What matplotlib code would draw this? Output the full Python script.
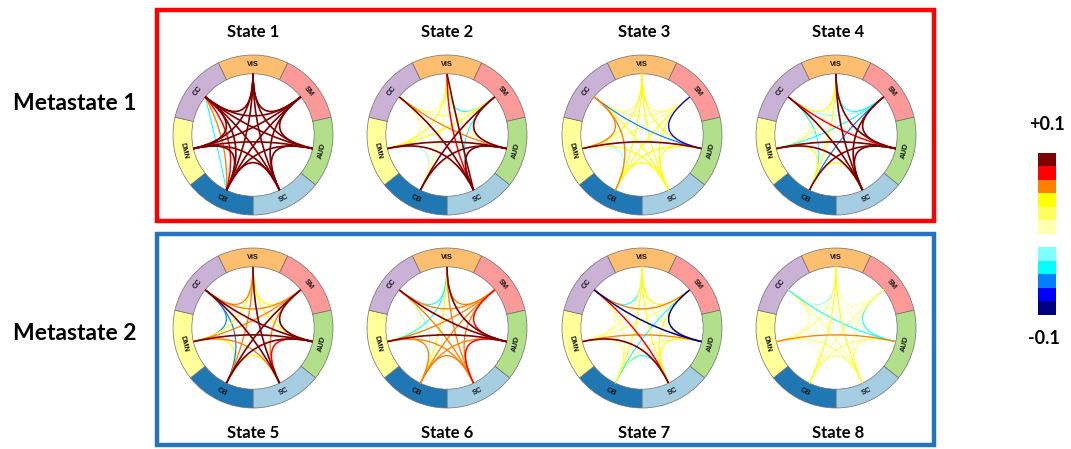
import numpy as np
import matplotlib
matplotlib.use("Agg")
import matplotlib.pyplot as plt
from matplotlib.patches import Wedge, Rectangle, PathPatch
from matplotlib.path import Path
from matplotlib.colors import ListedColormap, BoundaryNorm
from matplotlib.cm import ScalarMappable

# ---------------------------------------------------------------- data
networks = ["VIS", "SM", "AUD", "SC", "CB", "DMN", "CC"]
network_colors = ["#fdbf6f", "#fb9a99", "#b2df8a", "#a6cee3",
                  "#1f78b4", "#ffff99", "#cab2d6"]

state_titles = ["State 1", "State 2", "State 3", "State 4",
                "State 5", "State 6", "State 7", "State 8"]
metastate_labels = ["Metastate 1", "Metastate 2"]

level_colors = ["#000080", "#0000ff", "#0080ff", "#00ffff", "#80ffff", "#ffffff",
                "#ffffb0", "#ffff60", "#ffff00", "#ff8000", "#ff0000", "#800000"]
level_bounds = [-0.1, -0.07, -0.055, -0.04, -0.025, -0.01,
                0.01, 0.025, 0.04, 0.055, 0.07, 0.085, 0.1]
cbar_labels = ["+0.1", "-0.1"]

state1_edges = [
    ("VIS", "SM", 0.095), ("SM", "AUD", 0.095), ("AUD", "SC", 0.095),
    ("SC", "CB", 0.095), ("CB", "DMN", 0.095), ("DMN", "CC", 0.095),
    ("CC", "VIS", 0.095), ("VIS", "AUD", 0.095), ("SM", "SC", 0.095),
    ("AUD", "CB", 0.095), ("SC", "DMN", 0.095), ("CB", "CC", 0.095),
    ("DMN", "VIS", 0.095), ("CC", "SM", 0.095), ("VIS", "SC", 0.095),
    ("SM", "CB", 0.095), ("AUD", "DMN", 0.095), ("SC", "CC", 0.095),
    ("CB", "VIS", 0.095), ("DMN", "SM", 0.095), ("CC", "AUD", 0.095),
    ("CC", "CB", 0.08), ("CC", "CB", 0.065), ("CC", "CB", -0.035),
]
state2_edges = [
    ("VIS", "SM", -0.035), ("SM", "AUD", 0.095), ("AUD", "SC", 0.095),
    ("SC", "CB", 0.02), ("CB", "DMN", -0.02), ("DMN", "CC", 0.035),
    ("CC", "VIS", 0.035), ("VIS", "AUD", 0.035), ("SM", "SC", -0.035),
    ("AUD", "CB", 0.095), ("SC", "DMN", 0.095), ("CB", "CC", 0.02),
    ("DMN", "VIS", 0.05), ("CC", "SM", 0.035), ("VIS", "SC", 0.08),
    ("SM", "CB", 0.095), ("AUD", "DMN", 0.095), ("SC", "CC", 0.095),
    ("CB", "VIS", 0.035), ("DMN", "SM", 0.05), ("CC", "AUD", 0.065),
    ("VIS", "SC", 0.095),
]
state3_edges = [
    ("VIS", "SM", 0.035), ("SM", "AUD", -0.065), ("AUD", "SC", 0.05),
    ("SC", "CB", 0.05), ("CB", "DMN", -0.02), ("DMN", "CC", 0.065),
    ("CC", "VIS", 0.035), ("VIS", "AUD", 0.05), ("SM", "SC", 0.05),
    ("AUD", "CB", 0.05), ("SC", "DMN", 0.05), ("CB", "CC", 0.065),
    ("DMN", "VIS", 0.05), ("CC", "SM", 0.035), ("VIS", "SC", 0.05),
    ("SM", "CB", 0.05), ("AUD", "DMN", 0.095), ("SC", "CC", 0.05),
    ("CB", "VIS", 0.05), ("DMN", "SM", 0.035), ("CC", "AUD", -0.05),
]
state4_edges = [
    ("VIS", "SM", -0.035), ("SM", "AUD", 0.095), ("AUD", "SC", 0.095),
    ("SC", "CB", 0.05), ("CB", "DMN", 0.05), ("DMN", "CC", 0.035),
    ("CC", "VIS", 0.05), ("VIS", "AUD", 0.095), ("SM", "SC", 0.095),
    ("AUD", "CB", 0.095), ("SC", "DMN", 0.095), ("CB", "CC", -0.035),
    ("DMN", "VIS", 0.035), ("CC", "SM", -0.02), ("VIS", "SC", 0.095),
    ("SM", "CB", -0.05), ("AUD", "DMN", 0.095), ("SC", "CC", 0.095),
    ("CB", "VIS", 0.05), ("DMN", "SM", -0.035), ("CC", "AUD", 0.08),
]
state5_edges = [
    ("VIS", "SM", 0.05), ("SM", "AUD", 0.095), ("AUD", "SC", 0.08),
    ("SC", "CB", 0.05), ("CB", "DMN", 0.05), ("DMN", "CC", -0.05),
    ("CC", "VIS", 0.065), ("VIS", "AUD", 0.05), ("SM", "SC", 0.065),
    ("AUD", "CB", 0.095), ("SC", "DMN", 0.065), ("CB", "CC", -0.05),
    ("DMN", "VIS", 0.05), ("CC", "SM", 0.065), ("VIS", "SC", 0.095),
    ("SM", "CB", 0.095), ("AUD", "DMN", 0.095), ("SC", "CC", 0.095),
    ("CB", "VIS", 0.065), ("DMN", "SM", 0.065), ("CC", "AUD", 0.095),
]
state6_edges = [
    ("VIS", "SM", 0.065), ("SM", "AUD", 0.08), ("AUD", "SC", 0.08),
    ("SC", "CB", 0.065), ("CB", "DMN", 0.065), ("DMN", "CC", 0.035),
    ("CC", "VIS", -0.035), ("VIS", "AUD", 0.095), ("SM", "SC", 0.065),
    ("AUD", "CB", 0.065), ("SC", "DMN", 0.065), ("CB", "CC", -0.02),
    ("DMN", "VIS", -0.035), ("CC", "SM", 0.065), ("VIS", "SC", 0.065),
    ("SM", "CB", 0.065), ("AUD", "DMN", 0.095), ("SC", "CC", 0.065),
    ("CB", "VIS", 0.05), ("DMN", "SM", 0.065), ("CC", "AUD", 0.095),
]
state7_edges = [
    ("VIS", "SM", 0.05), ("SM", "AUD", -0.08), ("AUD", "SC", 0.05),
    ("SC", "CB", -0.035), ("CB", "DMN", 0.035), ("DMN", "CC", 0.035),
    ("CC", "VIS", -0.035), ("VIS", "AUD", 0.035), ("SM", "SC", 0.05),
    ("AUD", "CB", 0.035), ("SC", "DMN", 0.095), ("CB", "CC", 0.035),
    ("DMN", "VIS", 0.035), ("CC", "SM", 0.065), ("VIS", "SC", 0.05),
    ("SM", "CB", -0.035), ("AUD", "DMN", 0.065), ("SC", "CC", 0.08),
    ("CB", "VIS", 0.05), ("DMN", "SM", 0.035), ("CC", "AUD", -0.08),
]
state8_edges = [
    ("VIS", "SM", 0.02), ("SM", "AUD", -0.035), ("AUD", "SC", 0.035),
    ("SC", "CB", 0.035), ("CB", "DMN", 0.02), ("DMN", "CC", 0.035),
    ("CC", "VIS", -0.02), ("VIS", "AUD", 0.02), ("SM", "SC", 0.035),
    ("AUD", "CB", 0.035), ("SC", "DMN", 0.035), ("CB", "CC", 0.02),
    ("DMN", "VIS", 0.035), ("CC", "SM", 0.02), ("VIS", "SC", 0.05),
    ("SM", "CB", 0.035), ("AUD", "DMN", 0.065), ("SC", "CC", 0.035),
    ("CB", "VIS", 0.05), ("DMN", "SM", 0.02), ("CC", "AUD", -0.035),
]
all_states = [state1_edges, state2_edges, state3_edges, state4_edges,
              state5_edges, state6_edges, state7_edges, state8_edges]

# ---------------------------------------------------------------- setup
W, H = 1071, 449
fig = plt.figure(figsize=(W / 100, H / 100), dpi=100)
title_font = ["Lato", "DejaVu Sans"]
ring_font = ["Liberation Sans", "DejaVu Sans"]

cmap = ListedColormap(level_colors)
norm = BoundaryNorm(level_bounds, cmap.N)


def px_rect(left, top, width, height):
    return [left / W, 1 - (top + height) / H, width / W, height / H]


# frame axes in pixel units for the two group boxes
bg = fig.add_axes([0, 0, 1, 1], zorder=0)
bg.set_xlim(0, W)
bg.set_ylim(H, 0)
bg.axis("off")
bg.add_patch(Rectangle((157, 10), 777, 211, fill=False, edgecolor="#ff0000", lw=3.2))
bg.add_patch(Rectangle((157, 234), 777, 211, fill=False, edgecolor="#2373bf", lw=3.2))

for label, y in zip(metastate_labels, [103, 334]):
    bg.text(75, y, label, ha="center", va="center", fontsize=16.5,
            fontweight="bold", family=title_font)


def draw_state(ax, edges):
    n = len(networks)
    step = 360.0 / n
    angles = 90.0 - step * np.arange(n)
    r_out, ring_w = 1.0, 0.235
    r_node = r_out - ring_w
    node_xy = {}
    for k, (name, col) in enumerate(zip(networks, network_colors)):
        a = angles[k]
        ax.add_patch(Wedge((0, 0), r_out, a - step / 2, a + step / 2, width=ring_w,
                           facecolor=col, edgecolor="#6e6e6e", lw=0.5))
        th = np.deg2rad(a)
        rl = r_out - ring_w / 2
        rot = a - 90 if np.sin(th) >= -1e-6 else a + 90
        ax.text(rl * np.cos(th), rl * np.sin(th), name, rotation=rot,
                rotation_mode="anchor", ha="center", va="center",
                fontsize=5.3, fontweight="bold", family=ring_font, color="#111111")
        node_xy[name] = np.array([r_node * np.cos(th), r_node * np.sin(th)])

    # repeated pairs are bowed progressively towards the rim
    seen = {}
    chords = []
    for a_name, b_name, v in edges:
        key = frozenset((a_name, b_name))
        bend = 0.2 * seen.get(key, 0)
        seen[key] = seen.get(key, 0) + 1
        chords.append((a_name, b_name, v, bend))

    for a_name, b_name, v, bend in sorted(chords, key=lambda c: abs(c[2])):
        p0, p2 = node_xy[a_name], node_xy[b_name]
        mid = p0 + p2
        norm_mid = np.hypot(*mid)
        ctrl = np.zeros(2) if norm_mid < 1e-9 else bend * r_node * mid / norm_mid
        path = Path([p0, ctrl, p2], [Path.MOVETO, Path.CURVE3, Path.CURVE3])
        ax.add_patch(PathPatch(path, facecolor="none", edgecolor=cmap(norm(v)),
                               lw=0.45 + 0.8 * abs(v) / 0.1, capstyle="butt"))

    ax.set_xlim(-1.05, 1.05)
    ax.set_ylim(-1.05, 1.05)
    ax.set_aspect("equal")
    ax.axis("off")


centers_x = [253, 447, 642, 836]
centers_y = [135, 328]
radius_px = 80 * 1.05

for i, edges in enumerate(all_states):
    row, col = divmod(i, 4)
    cx, cy = centers_x[col], centers_y[row]
    ax = fig.add_axes(px_rect(cx - radius_px, cy - radius_px, 2 * radius_px, 2 * radius_px),
                      zorder=1)
    draw_state(ax, edges)
    ty = 32 if row == 0 else 433
    bg.text(cx + (2 if col >= 2 else 0), ty, state_titles[i], ha="center", va="center",
            fontsize=12, fontweight="bold", family=title_font)

# discrete colour key
cax = fig.add_axes(px_rect(1038, 152.7, 18, 162.3), zorder=1)
cb = fig.colorbar(ScalarMappable(norm=norm, cmap=cmap), cax=cax, spacing="uniform")
cb.outline.set_visible(False)
cb.set_ticks([])
cax.minorticks_off()
cax.tick_params(which="both", length=0, labelright=False, labelleft=False)
bg.text(1047, 124, cbar_labels[0], ha="center", va="center", fontsize=13,
        fontweight="bold", family=title_font)
bg.text(1044, 338, cbar_labels[1], ha="center", va="center", fontsize=13,
        fontweight="bold", family=title_font)

fig.savefig("out.png", dpi=100)
